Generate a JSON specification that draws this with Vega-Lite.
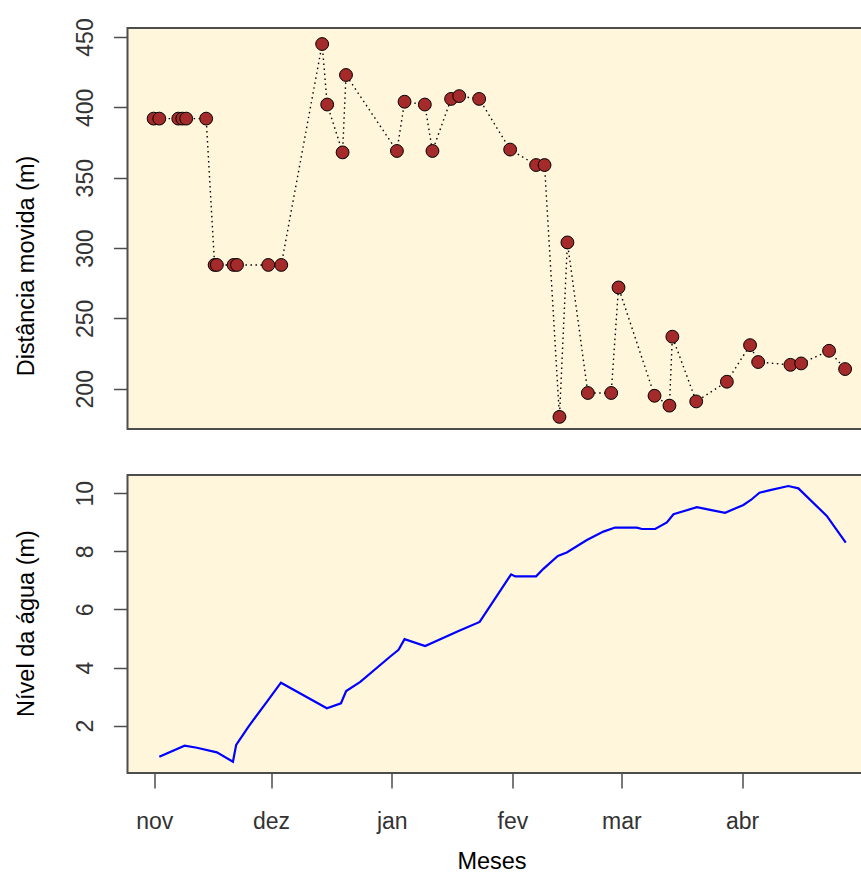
{
  "$schema": "https://vega.github.io/schema/vega-lite/v6.json",
  "padding": {"left": 13.5, "top": 16, "right": 0, "bottom": 0},
  "background": "white",
  "spacing": 44,
  "config": {
    "view": {"fill": "#FFF6DC", "stroke": "#4d4d4d", "strokeWidth": 2},
    "axis": {
      "grid": false,
      "domain": false,
      "tickColor": "#4d4d4d",
      "tickWidth": 1.5,
      "tickSize": 14,
      "labelFont": "Liberation Sans",
      "labelFontSize": 23,
      "labelColor": "#333333",
      "titleFont": "Liberation Sans",
      "titleFontSize": 23.5,
      "titleFontWeight": "normal",
      "titleColor": "#000000"
    }
  },
  "datasets": {
    "dist": [
      {"data": "2010-10-31T20:00", "distancia": 392},
      {"data": "2010-11-02T07:00", "distancia": 392},
      {"data": "2010-11-07T04:00", "distancia": 392},
      {"data": "2010-11-08T05:00", "distancia": 392},
      {"data": "2010-11-09T05:00", "distancia": 392},
      {"data": "2010-11-14T08:00", "distancia": 392},
      {"data": "2010-11-16T12:00", "distancia": 288},
      {"data": "2010-11-17T02:00", "distancia": 288},
      {"data": "2010-11-21T09:00", "distancia": 288},
      {"data": "2010-11-22T06:00", "distancia": 288},
      {"data": "2010-11-30T07:00", "distancia": 288},
      {"data": "2010-12-03T15:00", "distancia": 288},
      {"data": "2010-12-14T03:00", "distancia": 445},
      {"data": "2010-12-15T10:00", "distancia": 402},
      {"data": "2010-12-19T09:00", "distancia": 368},
      {"data": "2010-12-20T06:00", "distancia": 423},
      {"data": "2011-01-02T08:00", "distancia": 369},
      {"data": "2011-01-04T07:00", "distancia": 404},
      {"data": "2011-01-09T12:00", "distancia": 402},
      {"data": "2011-01-11T11:00", "distancia": 369},
      {"data": "2011-01-16T06:00", "distancia": 406},
      {"data": "2011-01-18T08:00", "distancia": 408},
      {"data": "2011-01-23T11:00", "distancia": 406},
      {"data": "2011-01-31T10:00", "distancia": 370},
      {"data": "2011-02-07T02:00", "distancia": 359},
      {"data": "2011-02-09T06:00", "distancia": 359},
      {"data": "2011-02-13T02:00", "distancia": 180},
      {"data": "2011-02-15T03:00", "distancia": 304},
      {"data": "2011-02-20T09:00", "distancia": 197},
      {"data": "2011-02-26T09:00", "distancia": 197},
      {"data": "2011-02-28T06:00", "distancia": 272},
      {"data": "2011-03-09T12:00", "distancia": 195},
      {"data": "2011-03-13T08:00", "distancia": 188},
      {"data": "2011-03-14T02:00", "distancia": 237},
      {"data": "2011-03-20T05:00", "distancia": 191},
      {"data": "2011-03-28T02:00", "distancia": 205},
      {"data": "2011-04-03T01:00", "distancia": 231},
      {"data": "2011-04-05T03:00", "distancia": 219},
      {"data": "2011-04-13T10:00", "distancia": 217},
      {"data": "2011-04-16T04:00", "distancia": 218},
      {"data": "2011-04-23T08:00", "distancia": 227},
      {"data": "2011-04-27T11:00", "distancia": 214}
    ],
    "nivel": [
      {"data": "2010-11-02T07:00", "nivel": 0.93},
      {"data": "2010-11-08T19:00", "nivel": 1.31},
      {"data": "2010-11-11T23:00", "nivel": 1.24},
      {"data": "2010-11-17T02:00", "nivel": 1.08},
      {"data": "2010-11-21T05:00", "nivel": 0.76},
      {"data": "2010-11-22T01:00", "nivel": 1.34},
      {"data": "2010-11-25T05:00", "nivel": 1.97},
      {"data": "2010-11-29T23:00", "nivel": 2.83},
      {"data": "2010-12-03T13:00", "nivel": 3.48},
      {"data": "2010-12-15T08:00", "nivel": 2.60},
      {"data": "2010-12-18T23:00", "nivel": 2.77},
      {"data": "2010-12-20T07:00", "nivel": 3.19},
      {"data": "2010-12-23T22:00", "nivel": 3.51},
      {"data": "2010-12-31T15:00", "nivel": 4.38},
      {"data": "2011-01-02T18:00", "nivel": 4.61},
      {"data": "2011-01-04T07:00", "nivel": 4.98},
      {"data": "2011-01-09T14:00", "nivel": 4.74},
      {"data": "2011-01-18T04:00", "nivel": 5.26},
      {"data": "2011-01-23T14:00", "nivel": 5.57},
      {"data": "2011-01-31T16:00", "nivel": 7.21},
      {"data": "2011-02-01T17:00", "nivel": 7.14},
      {"data": "2011-02-07T02:00", "nivel": 7.14},
      {"data": "2011-02-08T23:00", "nivel": 7.40},
      {"data": "2011-02-12T16:00", "nivel": 7.84},
      {"data": "2011-02-14T23:00", "nivel": 7.96},
      {"data": "2011-02-20T03:00", "nivel": 8.39},
      {"data": "2011-02-24T09:00", "nivel": 8.68},
      {"data": "2011-02-27T09:00", "nivel": 8.82},
      {"data": "2011-03-04T23:00", "nivel": 8.82},
      {"data": "2011-03-06T06:00", "nivel": 8.77},
      {"data": "2011-03-09T16:00", "nivel": 8.77},
      {"data": "2011-03-12T16:00", "nivel": 9.00},
      {"data": "2011-03-14T09:00", "nivel": 9.28},
      {"data": "2011-03-20T09:00", "nivel": 9.52},
      {"data": "2011-03-23T19:00", "nivel": 9.43},
      {"data": "2011-03-27T15:00", "nivel": 9.33},
      {"data": "2011-04-01T08:00", "nivel": 9.60},
      {"data": "2011-04-03T06:00", "nivel": 9.77},
      {"data": "2011-04-05T11:00", "nivel": 10.02},
      {"data": "2011-04-08T05:00", "nivel": 10.11},
      {"data": "2011-04-12T21:00", "nivel": 10.25},
      {"data": "2011-04-15T11:00", "nivel": 10.17},
      {"data": "2011-04-22T18:00", "nivel": 9.22},
      {"data": "2011-04-27T15:00", "nivel": 8.30}
    ]
  },
  "vconcat": [
    {
      "width": 746,
      "height": 401,
      "data": {"name": "dist"},
      "encoding": {
        "x": {
          "field": "data",
          "type": "temporal",
          "scale": {"domain": [{"year": 2010, "month": 10, "date": 25, "hours": 3}, {"year": 2011, "month": 5, "date": 4, "hours": 18}], "nice": false},
          "axis": null
        },
        "y": {
          "field": "distancia",
          "type": "quantitative",
          "scale": {"domain": [171.4, 456.4], "nice": false, "zero": false},
          "axis": {
            "values": [200, 250, 300, 350, 400, 450],
            "labelAngle": 270,
            "labelAlign": "center",
            "labelBaseline": "alphabetic",
            "labelPadding": 21,
            "title": "Distância movida (m)",
            "titleAngle": 270,
            "titleAlign": "center",
            "titleBaseline": "alphabetic",
            "titleX": -94,
            "titleY": 237.5
          }
        }
      },
      "layer": [
        {"mark": {"type": "line", "color": "#000000", "strokeWidth": 1.4, "strokeDash": [1.5, 3.5]}},
        {"mark": {"type": "point", "shape": "circle", "filled": true, "fill": "#A52A2A", "stroke": "#000000", "strokeWidth": 1, "size": 165, "opacity": 1, "fillOpacity": 1}}
      ]
    },
    {
      "width": 746,
      "height": 298,
      "data": {"name": "nivel"},
      "mark": {"type": "line", "color": "#0000FF", "strokeWidth": 2.2},
      "encoding": {
        "x": {
          "field": "data",
          "type": "temporal",
          "scale": {"domain": [{"year": 2010, "month": 10, "date": 25, "hours": 3}, {"year": 2011, "month": 5, "date": 4, "hours": 18}], "nice": false},
          "axis": {
            "values": [
              {"year": 2010, "month": 11, "date": 1},
              {"year": 2010, "month": 12, "date": 1},
              {"year": 2011, "month": 1, "date": 1},
              {"year": 2011, "month": 2, "date": 1},
              {"year": 2011, "month": 3, "date": 1},
              {"year": 2011, "month": 4, "date": 1}
            ],
            "labelExpr": "['jan','fev','mar','abr','mai','jun','jul','ago','set','out','nov','dez'][month(datum.value)]",
            "tickSize": 15,
            "labelPadding": 22,
            "labelAngle": 0,
            "labelAlign": "center",
            "labelBaseline": "top",
            "title": "Meses",
            "titleX": 364,
            "titleY": 95,
            "titleAlign": "center",
            "titleBaseline": "alphabetic"
          }
        },
        "y": {
          "field": "nivel",
          "type": "quantitative",
          "scale": {"domain": [0.37, 10.63], "nice": false, "zero": false},
          "axis": {
            "values": [2, 4, 6, 8, 10],
            "labelAngle": 270,
            "labelAlign": "center",
            "labelBaseline": "alphabetic",
            "labelPadding": 21,
            "title": "Nível da água (m)",
            "titleAngle": 270,
            "titleAlign": "center",
            "titleBaseline": "alphabetic",
            "titleX": -94,
            "titleY": 148
          }
        }
      }
    }
  ]
}
